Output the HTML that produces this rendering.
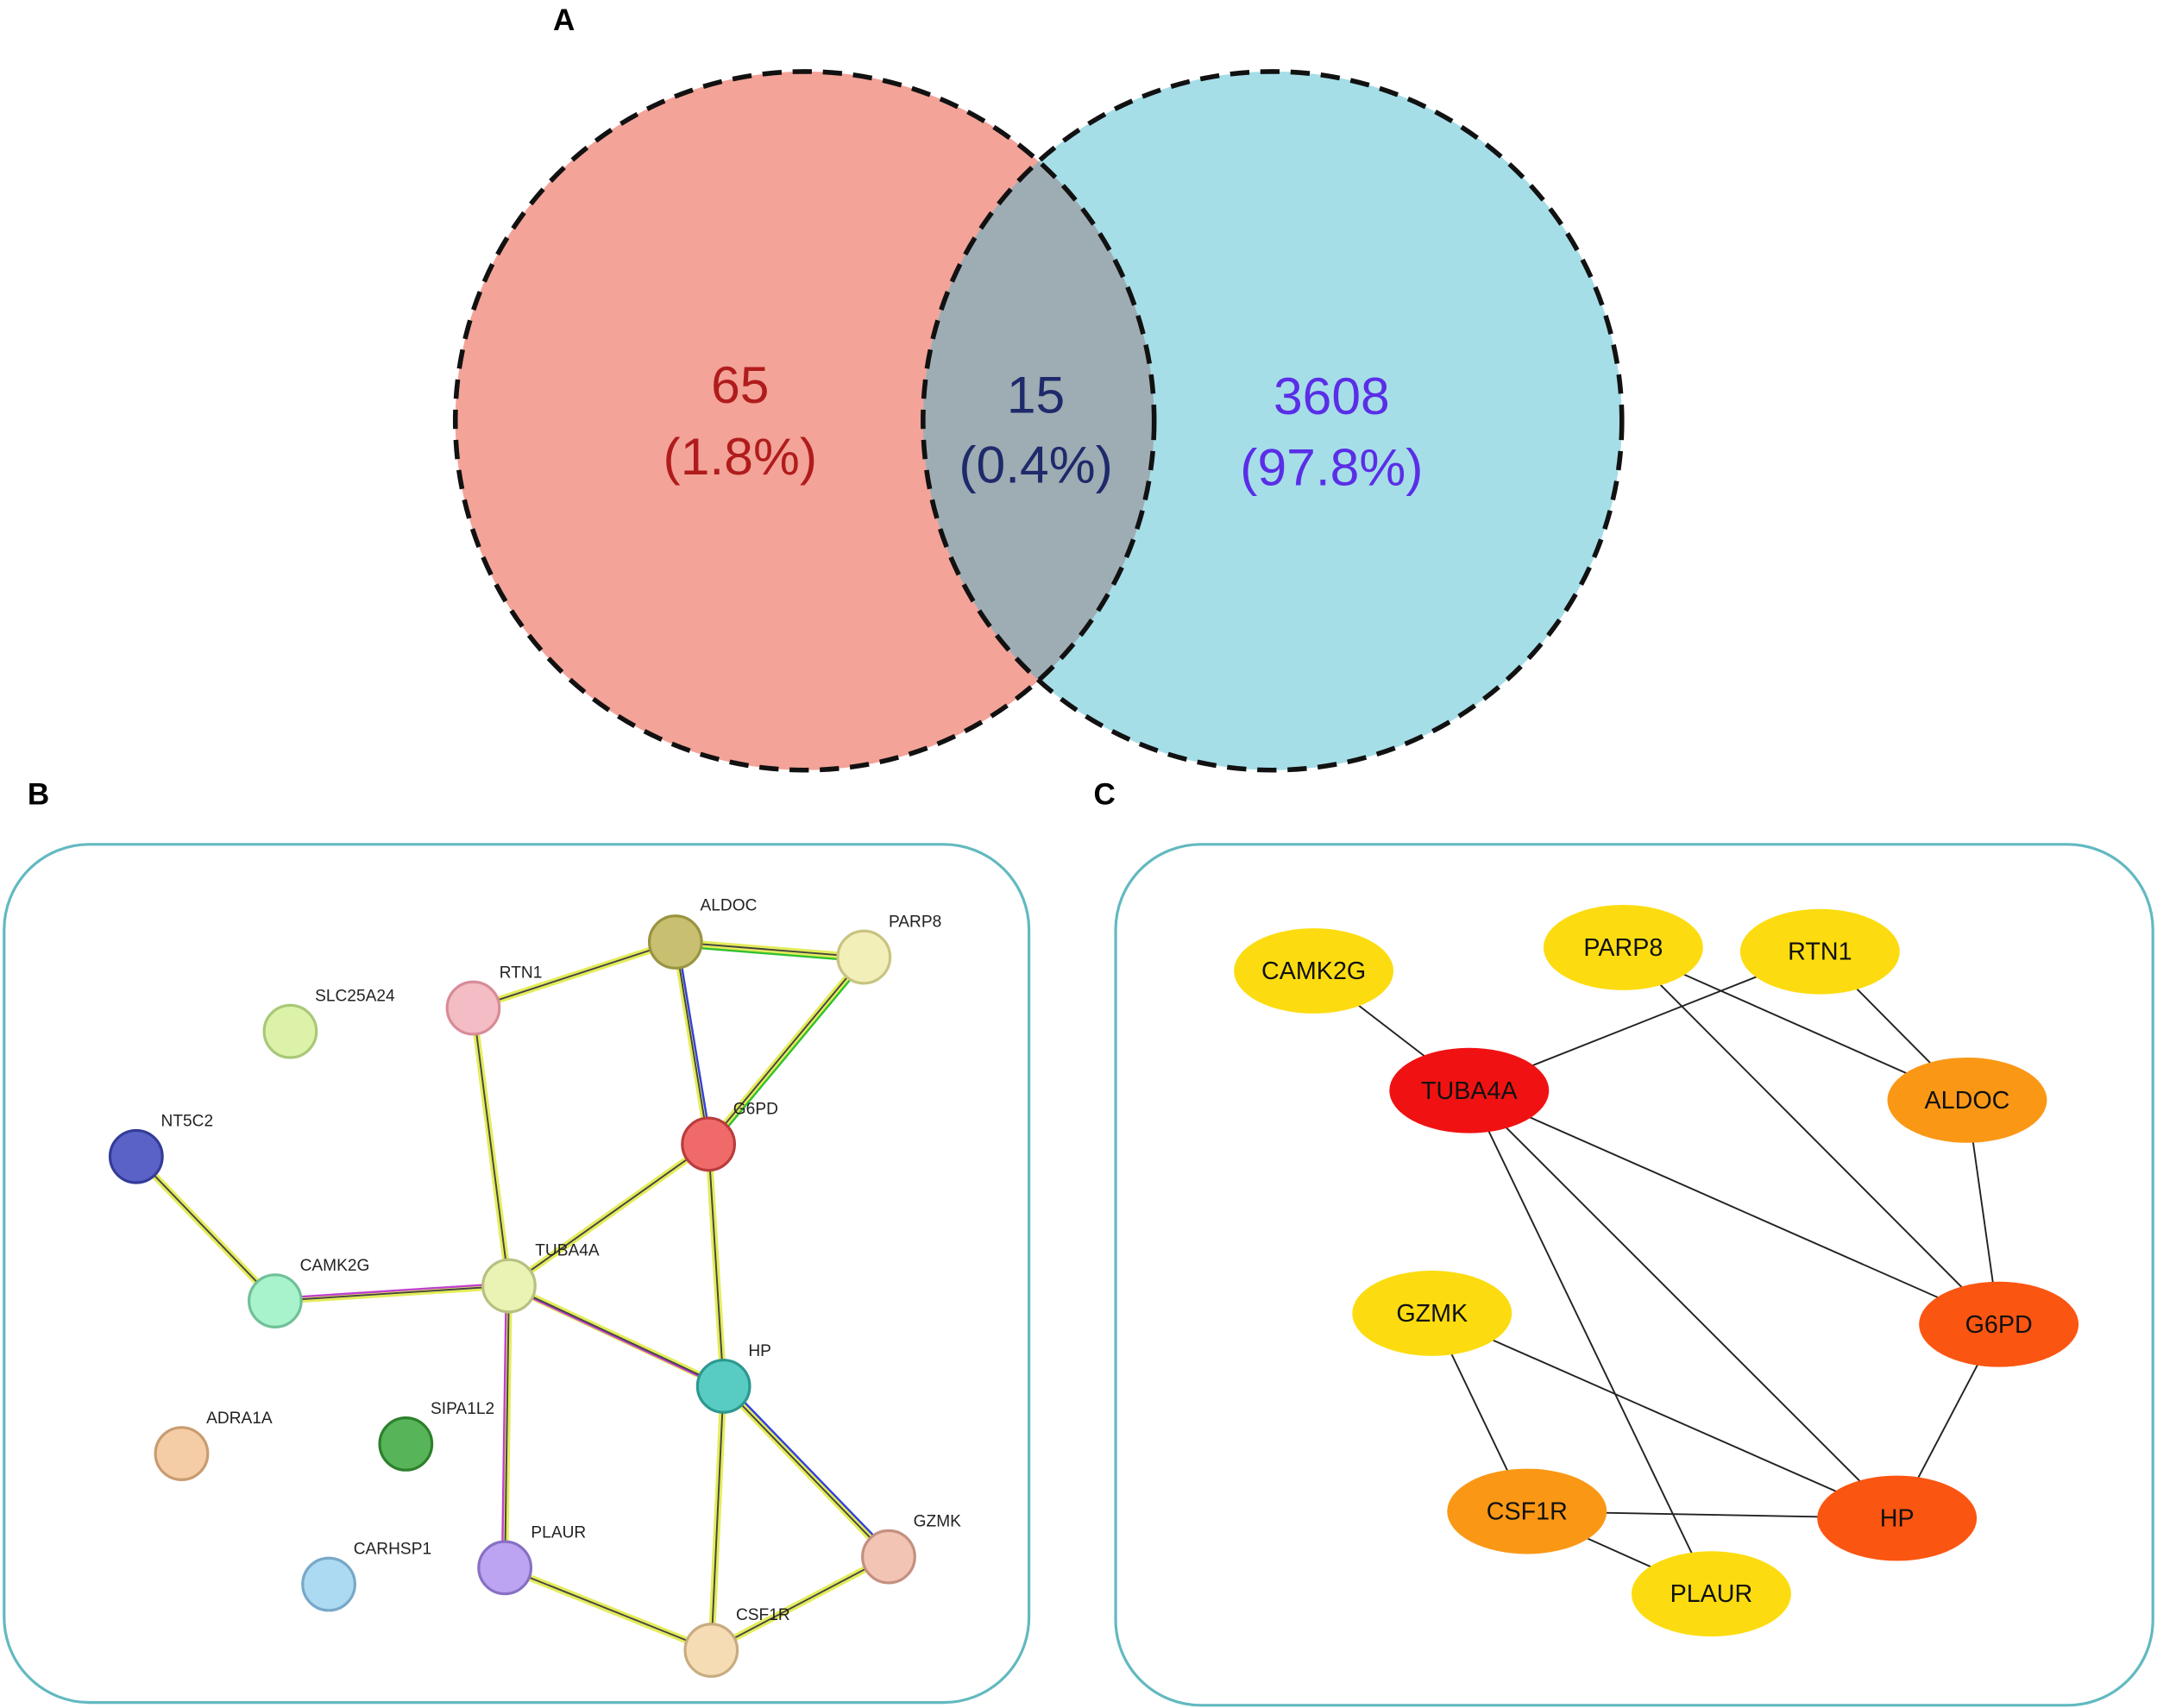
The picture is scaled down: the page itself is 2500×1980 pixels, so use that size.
<!DOCTYPE html>
<html><head><meta charset="utf-8"><style>
html,body{margin:0;padding:0;background:#fff;}
svg{display:block;}
text{font-family:"Liberation Sans",sans-serif;}
</style></head><body>
<svg width="2500" height="1980" viewBox="0 0 1568 1242" preserveAspectRatio="none" xmlns="http://www.w3.org/2000/svg">
<defs>
<clipPath id="cl"><circle cx="585" cy="306" r="254"/></clipPath>
</defs>
<!-- Venn -->
<circle cx="585" cy="306" r="254" fill="#f3a398"/>
<circle cx="925" cy="306" r="254" fill="#a6dee8"/>
<circle cx="925" cy="306" r="254" fill="#9eacb3" clip-path="url(#cl)"/>
<circle cx="585" cy="306" r="254" fill="none" stroke="#111" stroke-width="3.5" stroke-dasharray="14 8"/>
<circle cx="925" cy="306" r="254" fill="none" stroke="#111" stroke-width="3.5" stroke-dasharray="14 8"/>
<g font-size="38" text-anchor="middle" style="font-family:'DejaVu Sans',sans-serif">
<text x="538" y="293" fill="#b01c1c">65</text>
<text x="538" y="345" fill="#b01c1c">(1.8%)</text>
<text x="753" y="300" fill="#1e2a6a">15</text>
<text x="753" y="351" fill="#1e2a6a">(0.4%)</text>
<text x="968" y="301" fill="#5a2ee6">3608</text>
<text x="968" y="353" fill="#5a2ee6">(97.8%)</text>
</g>
<g font-size="22" font-weight="bold">
<text x="402" y="22">A</text>
<text x="20" y="585">B</text>
<text x="795" y="585">C</text>
</g>
<!-- boxes -->
<rect x="3" y="614" width="745" height="624" rx="62" fill="none" stroke="#62b9c0" stroke-width="2"/>
<rect x="811" y="614" width="754" height="626" rx="62" fill="none" stroke="#62b9c0" stroke-width="2"/>
<!-- B edges -->
<g stroke-linecap="round">
<g stroke="#e4ec5a" stroke-width="5">
<line x1="491" y1="685" x2="344" y2="733"/><line x1="491" y1="685" x2="628" y2="696"/><line x1="491" y1="685" x2="515" y2="832"/>
<line x1="628" y1="696" x2="515" y2="832"/><line x1="344" y1="733" x2="370" y2="935"/><line x1="515" y1="832" x2="370" y2="935"/>
<line x1="515" y1="832" x2="526" y2="1008"/><line x1="99" y1="841" x2="200" y2="946"/><line x1="200" y1="946" x2="370" y2="935"/>
<line x1="370" y1="935" x2="526" y2="1008"/><line x1="370" y1="935" x2="367" y2="1140"/><line x1="526" y1="1008" x2="646" y2="1132"/>
<line x1="526" y1="1008" x2="517" y2="1200"/><line x1="367" y1="1140" x2="517" y2="1200"/><line x1="517" y1="1200" x2="646" y2="1132"/>
</g>
<g stroke="#c040d0" stroke-width="1.5">
<line x1="202" y1="944" x2="372" y2="933"/><line x1="372" y1="937" x2="528" y2="1010"/><line x1="368" y1="935" x2="365" y2="1140"/>
</g>
<g stroke="#3040e0" stroke-width="1.5"><line x1="528" y1="1006" x2="648" y2="1130"/><line x1="493" y1="687" x2="517" y2="832"/></g>
<g stroke="#30c030" stroke-width="1.5"><line x1="491" y1="688" x2="628" y2="699"/><line x1="630" y1="698" x2="517" y2="834"/></g>
<g stroke="#444" stroke-width="1.2">
<line x1="491" y1="685" x2="344" y2="733"/><line x1="491" y1="685" x2="628" y2="696"/><line x1="491" y1="685" x2="515" y2="832"/>
<line x1="628" y1="696" x2="515" y2="832"/><line x1="344" y1="733" x2="370" y2="935"/><line x1="515" y1="832" x2="370" y2="935"/>
<line x1="515" y1="832" x2="526" y2="1008"/><line x1="99" y1="841" x2="200" y2="946"/><line x1="200" y1="946" x2="370" y2="935"/>
<line x1="370" y1="935" x2="526" y2="1008"/><line x1="370" y1="935" x2="367" y2="1140"/><line x1="526" y1="1008" x2="646" y2="1132"/>
<line x1="526" y1="1008" x2="517" y2="1200"/><line x1="367" y1="1140" x2="517" y2="1200"/><line x1="517" y1="1200" x2="646" y2="1132"/>
</g>
</g>
<!-- B nodes -->
<g stroke-width="2" fill-opacity="1">
<circle cx="491" cy="685" r="19" fill="#c8c070" stroke="#9a9440"/>
<circle cx="628" cy="696" r="19" fill="#f2f0b8" stroke="#c8c480"/>
<circle cx="344" cy="733" r="19" fill="#f4bcc4" stroke="#d88c98"/>
<circle cx="211" cy="750" r="19" fill="#dcf2a8" stroke="#a8c878"/>
<circle cx="99" cy="841" r="19" fill="#5a62c8" stroke="#343c98"/>
<circle cx="515" cy="832" r="19" fill="#f06a6a" stroke="#b83c3c"/>
<circle cx="200" cy="946" r="19" fill="#a8f2cc" stroke="#70c098"/>
<circle cx="370" cy="935" r="19" fill="#eaf2b4" stroke="#b8c080"/>
<circle cx="526" cy="1008" r="19" fill="#58ccc2" stroke="#2c9890"/>
<circle cx="132" cy="1057" r="19" fill="#f4cca6" stroke="#c89c70"/>
<circle cx="295" cy="1050" r="19" fill="#58b458" stroke="#2c802c"/>
<circle cx="367" cy="1140" r="19" fill="#bca4f2" stroke="#8870c4"/>
<circle cx="239" cy="1152" r="19" fill="#acdaf2" stroke="#78a8c8"/>
<circle cx="646" cy="1132" r="19" fill="#f2c4b4" stroke="#c49080"/>
<circle cx="517" cy="1200" r="19" fill="#f6dcb4" stroke="#c8ac80"/>
</g>
<g font-size="12" fill="#222">
<text x="509" y="662">ALDOC</text><text x="646" y="674">PARP8</text><text x="363" y="711">RTN1</text>
<text x="229" y="728">SLC25A24</text><text x="117" y="819">NT5C2</text><text x="533" y="810">G6PD</text>
<text x="218" y="924">CAMK2G</text><text x="389" y="913">TUBA4A</text><text x="544" y="986">HP</text>
<text x="150" y="1035">ADRA1A</text><text x="313" y="1028">SIPA1L2</text><text x="386" y="1118">PLAUR</text>
<text x="257" y="1130">CARHSP1</text><text x="664" y="1110">GZMK</text><text x="535" y="1178">CSF1R</text>
</g>
<!-- C edges -->
<g stroke="#222" stroke-width="1.2">
<line x1="955" y1="706" x2="1068" y2="793"/><line x1="1323" y1="692" x2="1068" y2="793"/>
<line x1="1180" y1="689" x2="1430" y2="800"/><line x1="1180" y1="689" x2="1453" y2="963"/>
<line x1="1323" y1="692" x2="1430" y2="800"/><line x1="1430" y1="800" x2="1453" y2="963"/>
<line x1="1068" y1="793" x2="1453" y2="963"/><line x1="1068" y1="793" x2="1379" y2="1104"/>
<line x1="1068" y1="793" x2="1244" y2="1159"/><line x1="1041" y1="955" x2="1110" y2="1099"/>
<line x1="1041" y1="955" x2="1379" y2="1104"/><line x1="1453" y1="963" x2="1379" y2="1104"/>
<line x1="1110" y1="1099" x2="1379" y2="1104"/><line x1="1110" y1="1099" x2="1244" y2="1159"/>
</g>
<g>
<ellipse cx="955" cy="706" rx="58" ry="31" fill="#fcdc10"/>
<ellipse cx="1180" cy="689" rx="58" ry="31" fill="#fcdc10"/>
<ellipse cx="1323" cy="692" rx="58" ry="31" fill="#fcdc10"/>
<ellipse cx="1068" cy="793" rx="58" ry="31" fill="#f01212"/>
<ellipse cx="1430" cy="800" rx="58" ry="31" fill="#fa9816"/>
<ellipse cx="1041" cy="955" rx="58" ry="31" fill="#fcdc10"/>
<ellipse cx="1453" cy="963" rx="58" ry="31" fill="#fb5512"/>
<ellipse cx="1110" cy="1099" rx="58" ry="31" fill="#fa9816"/>
<ellipse cx="1379" cy="1104" rx="58" ry="31" fill="#fb5512"/>
<ellipse cx="1244" cy="1159" rx="58" ry="31" fill="#fcdc10"/>
</g>
<g font-size="18" text-anchor="middle" fill="#111">
<text x="955" y="712">CAMK2G</text><text x="1180" y="695">PARP8</text><text x="1323" y="698">RTN1</text>
<text x="1068" y="799">TUBA4A</text><text x="1430" y="806">ALDOC</text><text x="1041" y="961">GZMK</text>
<text x="1453" y="969">G6PD</text><text x="1110" y="1105">CSF1R</text><text x="1379" y="1110">HP</text>
<text x="1244" y="1165">PLAUR</text>
</g>
</svg>
</body></html>
